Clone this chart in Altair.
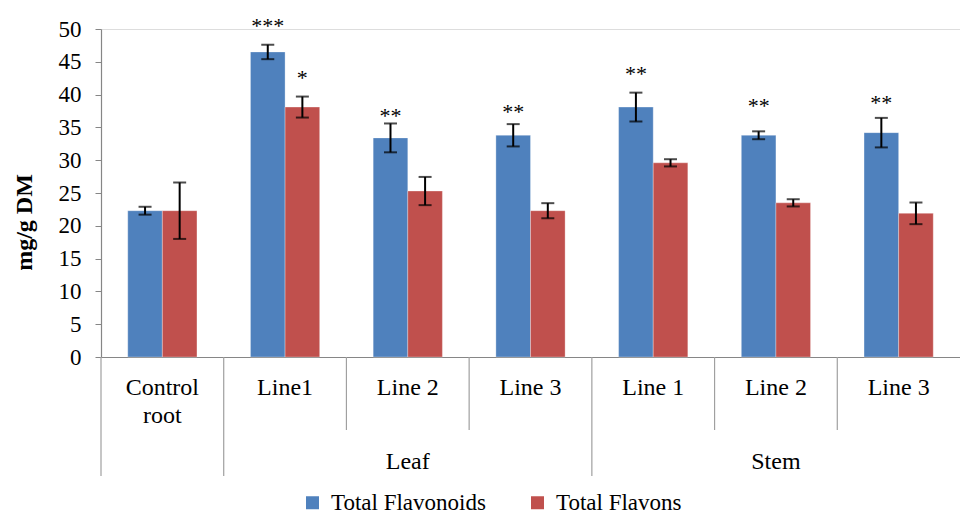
import altair as alt
import pandas as pd

# ---- data ----
keys = ["Control root", "Leaf Line1", "Leaf Line 2", "Leaf Line 3",
        "Stem Line 1", "Stem Line 2", "Stem Line 3"]
groups = ["", "Leaf", "Leaf", "Leaf", "Stem", "Stem", "Stem"]
sub_labels = ["Control\nroot", "Line1", "Line 2", "Line 3", "Line 1", "Line 2", "Line 3"]
series = ["Total Flavonoids", "Total Flavons"]
flavonoids = [22.3, 46.5, 33.4, 33.8, 38.1, 33.8, 34.2]
flavonoids_err = [0.6, 1.1, 2.2, 1.7, 2.2, 0.6, 2.25]
flavons = [22.3, 38.1, 25.3, 22.3, 29.6, 23.5, 21.9]
flavons_err = [4.3, 1.6, 2.15, 1.15, 0.55, 0.55, 1.65]
flavonoids_stars = ["", "***", "**", "**", "**", "**", "**"]
flavons_stars = ["", "*", "", "", "", "", ""]
flavonoids_star_y = [0, 51.1, 37.4, 37.9, 43.8, 38.9, 39.4]
flavons_star_y = [0, 43.2, 0, 0, 0, 0, 0]
y_ticks = [0, 5, 10, 15, 20, 25, 30, 35, 40, 45, 50]
colors = ["#4F81BD", "#C0504D"]

FONT = "Liberation Serif"
W, H = 859, 328

rows = []
for i, k in enumerate(keys):
    for s, v, e, st, sy in [
        (series[0], flavonoids[i], flavonoids_err[i], flavonoids_stars[i], flavonoids_star_y[i]),
        (series[1], flavons[i], flavons_err[i], flavons_stars[i], flavons_star_y[i]),
    ]:
        rows.append({"key": k, "series": s, "value": v, "lo": v - e, "hi": v + e,
                     "star": st, "star_y": sy})
df = pd.DataFrame(rows)

cat = pd.DataFrame({"key": keys, "label": sub_labels, "group": groups})
cat["long"] = [i == 0 or groups[i] != groups[i - 1] for i in range(len(keys))]

grp_rows = []
for g in [g for g in dict.fromkeys(groups) if g]:
    members = [k for k, gg in zip(keys, groups) if gg == g]
    grp_rows.append({"key": members[len(members) // 2], "label": g})
grp = pd.DataFrame(grp_rows)

xscale = alt.Scale(domain=keys, paddingInner=0, paddingOuter=0)
xoff_scale = alt.Scale(domain=series, paddingInner=0, paddingOuter=0.773)
yscale = alt.Scale(domain=[0, 50], nice=False, zero=True)

x_axis = alt.Axis(labels=False, ticks=False, title=None, grid=False,
                  domainColor="#868686", domainWidth=1.2)
y_axis = alt.Axis(values=y_ticks, grid=False, tickSize=6,
                  tickColor="#868686", domainColor="#868686", domainWidth=1.2,
                  labelOverlap=False, labelFont=FONT, labelFontSize=23,
                  labelColor="#000000", labelPadding=14, title="mg/g DM",
                  titleFont=FONT, titleFontSize=24, titleFontWeight="bold",
                  titleColor="#000000", titleX=-70, titleY=193,
                  titleBaseline="alphabetic")

x_enc = alt.X("key:N", scale=xscale, axis=x_axis)
xo = alt.XOffset("series:N", scale=xoff_scale)

def yq(field):
    return alt.Y(field, scale=yscale, axis=y_axis)

legend = alt.Legend(title=None, orient="none", direction="horizontal",
                    legendX=200, legendY=462, symbolType="square",
                    symbolSize=169, symbolStrokeWidth=0,
                    labelFont=FONT, labelFontSize=23, labelColor="#000000",
                    labelLimit=400, labelOffset=7, columnPadding=40, padding=0)

bars = alt.Chart(df).mark_bar(stroke="#ffffff", strokeWidth=0.6, strokeOpacity=0.5).encode(
    x=x_enc,
    xOffset=xo,
    y=yq("value:Q"),
    color=alt.Color("series:N", scale=alt.Scale(domain=series, range=colors), legend=legend),
)

err = alt.Chart(df).mark_rule(color="#000000", strokeWidth=2).encode(
    x=x_enc, xOffset=xo, y=yq("lo:Q"), y2="hi:Q")
cap_lo = alt.Chart(df).mark_tick(color="#000000", thickness=2, size=13, orient="horizontal").encode(
    x=x_enc, xOffset=xo, y=yq("lo:Q"))
cap_hi = alt.Chart(df).mark_tick(color="#000000", thickness=2, size=13, orient="horizontal").encode(
    x=x_enc, xOffset=xo, y=yq("hi:Q"))

stars = alt.Chart(df).transform_filter("datum.star != ''").mark_text(
    font=FONT, fontSize=22, color="#000000", baseline="middle", dy=4, clip=False).encode(
    x=x_enc, xOffset=xo, y=yq("star_y:Q"), text="star:N")

sep_short = alt.Chart(cat).transform_filter("!datum.long").mark_rule(
    color="#A0A0A0", strokeWidth=1.2).encode(
    x=alt.X("key:N", scale=xscale, bandPosition=0, axis=x_axis),
    y=alt.value(H), y2=alt.value(H + 73))
sep_long = alt.Chart(cat).transform_filter("datum.long").mark_rule(
    color="#A0A0A0", strokeWidth=1.2).encode(
    x=alt.X("key:N", scale=xscale, bandPosition=0, axis=x_axis),
    y=alt.value(H), y2=alt.value(H + 119))

cat_text = alt.Chart(cat).mark_text(
    font=FONT, fontSize=24, color="#000000", baseline="alphabetic",
    lineBreak="\n", lineHeight=28).encode(
    x=x_enc, y=alt.value(H + 38), text="label:N")

grp_text = alt.Chart(grp).mark_text(
    font=FONT, fontSize=24, color="#000000", baseline="alphabetic").encode(
    x=x_enc, y=alt.value(H + 112), text="label:N")

chart = alt.layer(bars, err, cap_lo, cap_hi, stars, sep_short, sep_long, cat_text, grp_text).properties(
    width=W, height=H,
    autosize=alt.AutoSizeParams(type="none"),
    padding={"left": 93, "top": 21, "right": 0, "bottom": 159},
).configure_view(stroke=None).configure(
    background="#ffffff", font=FONT
).configure_legend(labelFont=FONT, labelFontSize=23)

chart.save("out.html", embed_options={"renderer": "svg", "actions": False})
